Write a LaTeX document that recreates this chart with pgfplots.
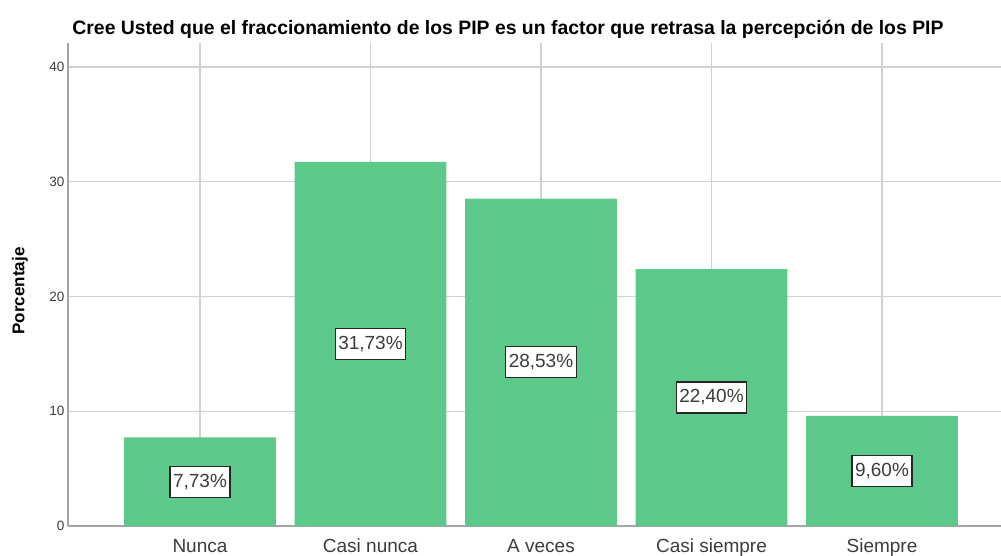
\documentclass[border=0pt]{standalone}
\usepackage{pgfplots}
\pgfplotsset{compat=1.18}
\usepackage{fontspec}
\setmainfont{Liberation Sans}
\definecolor{barg}{RGB}{92,201,138}
\definecolor{gridc}{RGB}{208,208,208}
\definecolor{axc}{RGB}{165,165,165}
\definecolor{txt}{RGB}{60,60,60}
\begin{document}
\begin{tikzpicture}[x=1pt,y=1pt]
\begin{axis}[
  at={(0,0)}, anchor=south west,
  scale only axis, width=933pt, height=483pt,
  xmin=-0.774, xmax=4.698, ymin=0, ymax=42.1,
  axis x line*=bottom, axis y line*=left,
  xtick={0,1,2,3,4},
  xticklabels={Nunca, Casi nunca, A veces, Casi siempre, Siempre},
  ytick={0,10,20,30,40},
  grid=major, major grid style={gridc, line width=1.2pt},
  major tick length=0pt,
  axis line style={axc, line width=1.8pt},
  /pgf/number format/assume math mode=true,
  yticklabel style={font=\fontsize{13.5}{14}\selectfont, text=txt},
  xticklabel style={font=\fontsize{19}{20}\selectfont, text=txt, anchor=base, yshift=-26pt},
]
\addplot[ybar, bar width=0.89, fill=barg, draw=none,
  point meta=y,
  visualization depends on={y \as \rawy},
  nodes near coords={\pgfmathprintnumber[fixed, precision=2, fixed zerofill, use comma]{\pgfplotspointmeta}\%},
  nodes near coords style={anchor=center, shift={(axis direction cs:0,-\rawy/2)},
    fill=white, draw=black!85, line width=1.2pt, text=txt,
    font=\fontsize{19}{20}\selectfont, inner xsep=3pt, minimum height=31pt}
] table {
x y
0 7.73
1 31.73
2 28.53
3 22.40
4 9.60
};
\end{axis}
\node[rotate=90, font=\bfseries\fontsize{17}{18}\selectfont] at (-48,235) {Porcentaje};
\node[anchor=base, font=\bfseries\fontsize{19.4}{21}\selectfont] at (440,491) {Cree Usted que el fraccionamiento de los PIP es un factor que retrasa la percepción de los PIP};
\pgfresetboundingbox
\path[use as bounding box] (-68,-29) rectangle (933,526);
\end{tikzpicture}
\end{document}
